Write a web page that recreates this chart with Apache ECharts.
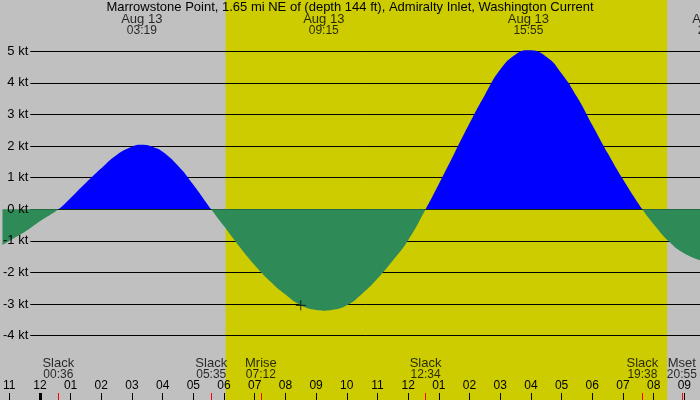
<!DOCTYPE html>
<html>
<head>
<meta charset="utf-8">
<script src="https://cdn.jsdelivr.net/npm/echarts@6/dist/echarts.min.js"></script>
<style>
html,body{margin:0;padding:0;background:#c0c0c0;}
#chart{width:700px;height:400px;}
</style>
</head>
<body>
<div id="chart"></div>
<script>
// ---- data ----
const titleText = 'Marrowstone Point, 1.65 mi NE of (depth 144 ft), Admiralty Inlet, Washington Current';
// time in hours from midnight Aug 13, current speed in knots
const hours  = [-1.22, -1.0, -0.5, 0.0, 0.6, 1.0, 1.5, 2.0, 2.5, 3.0, 3.32, 3.75, 4.0, 4.5, 5.0, 5.58,
                6.0, 6.5, 7.0, 7.5, 8.0, 8.5, 9.0, 9.25, 9.5, 10.0, 10.5, 11.0, 11.5, 12.0, 12.57,
                13.0, 13.5, 14.0, 14.5, 15.0, 15.5, 15.92, 16.5, 17.0, 17.5, 18.0, 18.5, 19.0, 19.63,
                20.0, 20.5, 21.0, 21.51];
const speeds = [-1.13, -1.00, -0.72, -0.38, 0.00, 0.36, 0.84, 1.30, 1.72, 1.98, 2.04, 1.95, 1.82, 1.38, 0.78, 0.00,
                -0.54, -1.18, -1.77, -2.28, -2.70, -3.04, -3.19, -3.21, -3.19, -3.04, -2.67, -2.19, -1.62, -0.98, 0.00,
                0.80, 1.76, 2.72, 3.62, 4.42, 4.90, 5.03, 4.83, 4.30, 3.56, 2.67, 1.78, 0.95, 0.00,
                -0.47, -1.02, -1.40, -1.61];
const ktTicks  = [-4, -3, -2, -1, 0, 1, 2, 3, 4, 5];
const hourTicks  = [-1, 0, 1, 2, 3, 4, 5, 6, 7, 8, 9, 10, 11, 12, 13, 14, 15, 16, 17, 18, 19, 20, 21];
const hourLabels = ['11','12','01','02','03','04','05','06','07','08','09','10','11','12','01','02','03','04','05','06','07','08','09'];
const midnightTicks = [0];
const peakTimes  = [3.32, 9.25, 15.92, 21.93];
const peakDates  = ['Aug 13', 'Aug 13', 'Aug 13', 'Aug 13'];
const peakClock  = ['03:19', '09:15', '15:55', '21:56'];
const eventTimes  = [0.6, 5.583, 7.2, 12.567, 19.633, 20.917];
const eventNames  = ['Slack', 'Slack', 'Mrise', 'Slack', 'Slack', 'Mset'];
const eventClock  = ['00:36', '05:35', '07:12', '12:34', '19:38', '20:55'];
const daylight = [6.05, 20.44];
const marker = [8.5, -3.04];

// ---- chart ----
const X_MIN = -1.218, X_MAX = 21.51, Y_MIN = -6.035, Y_MAX = 6.623;
const FONT = 'Liberation Sans';
const txt = {color: '#000', fontFamily: FONT, fontSize: 13};
const rich = {
  w: {color: '#000', fontFamily: FONT, fontSize: 13, lineHeight: 12},
  d: {color: '#000', fontFamily: FONT, fontSize: 12, lineHeight: 12}
};

const chart = echarts.init(document.getElementById('chart'), null, {renderer: 'canvas'});
const baseX = {type: 'value', min: X_MIN, max: X_MAX, position: 'bottom',
  axisLine: {show: false, onZero: false}, splitLine: {show: false}};

chart.setOption({
  backgroundColor: '#c0c0c0',
  animation: false,
  title: {text: titleText, left: 'center', top: 1.5, padding: 0,
    textStyle: Object.assign({}, txt, {fontWeight: 'normal', lineHeight: 12})},
  grid: [
    {left: 0, right: 0, top: 0, bottom: 0},
    {left: 30, right: 0, top: 0, bottom: 0}
  ],
  xAxis: [
    Object.assign({}, baseX, {gridIndex: 0,
      axisTick: {show: true, inside: true, length: 7, lineStyle: {color: '#000', width: 1}, customValues: hourTicks},
      axisLabel: {show: true, inside: true, margin: 8, customValues: hourTicks, color: '#000',
        fontFamily: FONT, fontSize: 12,
        formatter: v => hourLabels[hourTicks.indexOf(Math.round(v))]}}),
    Object.assign({}, baseX, {gridIndex: 1, show: false}),
    Object.assign({}, baseX, {gridIndex: 0,
      axisTick: {show: true, inside: true, length: 7, lineStyle: {color: '#ff0000', width: 1}, customValues: eventTimes},
      axisLabel: {show: false}}),
    Object.assign({}, baseX, {gridIndex: 0,
      axisTick: {show: true, inside: true, length: 7, lineStyle: {color: '#000', width: 3}, customValues: midnightTicks},
      axisLabel: {show: false}})
  ],
  yAxis: [
    {type: 'value', gridIndex: 0, min: Y_MIN, max: Y_MAX, show: false, splitLine: {show: false}},
    // grid lines (drawn beneath the current fill)
    {type: 'value', gridIndex: 1, min: Y_MIN, max: Y_MAX,
      axisLine: {show: false}, axisTick: {show: false, customValues: ktTicks},
      axisLabel: {show: false, customValues: ktTicks},
      splitLine: {show: true, lineStyle: {color: '#000', width: 1}}},
    // labels (drawn above the current fill)
    {type: 'value', gridIndex: 1, min: Y_MIN, max: Y_MAX, z: 4, position: 'left',
      axisLine: {show: false}, axisTick: {show: false, customValues: ktTicks},
      axisLabel: Object.assign({}, txt, {margin: 2, customValues: ktTicks, formatter: v => v + ' kt'}),
      splitLine: {show: false}}
  ],
  visualMap: {
    type: 'piecewise', show: false, dimension: 1, seriesIndex: 0,
    pieces: [{gte: -50, lt: 0, color: '#2e8b57'}, {gte: 0, lte: 50, color: '#0000ff'}]
  },
  series: [
    {
      type: 'line', xAxisIndex: 0, yAxisIndex: 0,
      data: hours.map((h, i) => [h, speeds[i]]),
      smooth: 0.5, showSymbol: false, symbol: 'none',
      lineStyle: {width: 0},
      areaStyle: {opacity: 1, origin: 0},
      markArea: {z: -1, silent: true, itemStyle: {color: '#cccc00'},
        data: [[{xAxis: daylight[0]}, {xAxis: daylight[1]}]]}
    },
    {
      type: 'scatter', xAxisIndex: 0, yAxisIndex: 0, clip: false, silent: true,
      symbolSize: 0, data: peakTimes.map(t => [t, Y_MAX]),
      label: {show: true, position: 'bottom', distance: 13, align: 'center', rich: rich,
        formatter: p => '{w|' + peakDates[p.dataIndex] + '}\n{d|' + peakClock[p.dataIndex] + '}'}
    },
    {
      type: 'scatter', xAxisIndex: 0, yAxisIndex: 0, clip: false, silent: true,
      symbolSize: 0, data: eventTimes.map(t => [t, Y_MIN]),
      label: {show: true, position: 'top', distance: 19, align: 'center', rich: rich,
        formatter: p => '{w|' + eventNames[p.dataIndex] + '}\n{d|' + eventClock[p.dataIndex] + '}'}
    },
    {
      type: 'scatter', xAxisIndex: 0, yAxisIndex: 0, silent: true, z: 5,
      symbol: 'path://M0,5L10,5M5,0L5,10', symbolSize: 10,
      itemStyle: {color: 'none', borderColor: '#000', borderWidth: 1},
      data: [marker]
    }
  ]
});
</script>
</body>
</html>
